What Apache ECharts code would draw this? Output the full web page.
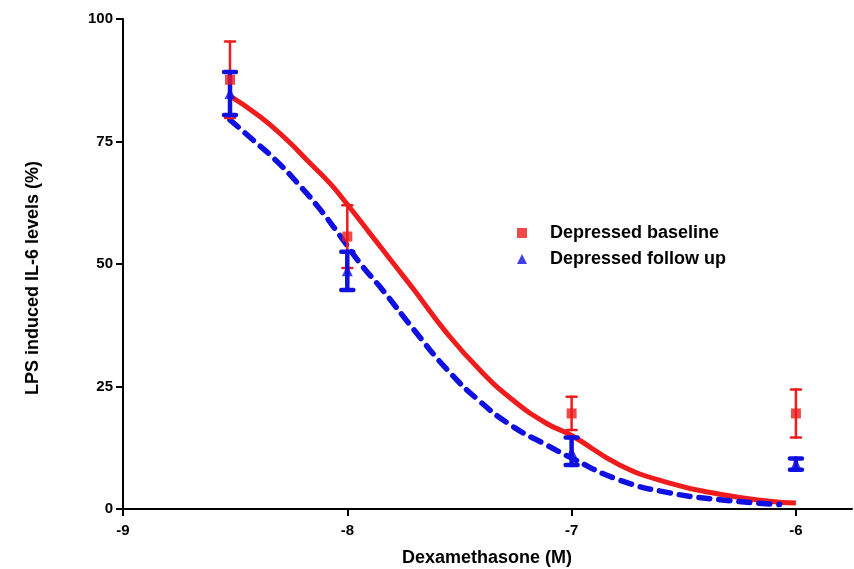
<!DOCTYPE html>
<html><head><meta charset="utf-8">
<script src="https://cdn.jsdelivr.net/npm/echarts@6/dist/echarts.min.js"></script>
<style>html,body{margin:0;padding:0;background:#fff}#c{width:854px;height:569px}</style>
</head><body><div id="c"></div>
<script>
// Dose (log M) of measured points
const doses = [-8.523, -8, -7, -6];
// Depressed baseline: mean, upper and lower error bar ends
const baseMean = [87.6, 55.6, 19.5, 19.5];
const baseHigh = [95.4, 62.0, 22.9, 24.4];
const baseLow  = [79.8, 49.2, 16.1, 14.6];
// Depressed follow up: mean, upper and lower error bar ends
const fupMean = [84.8, 48.6, 11.6, 9.2];
const fupHigh = [89.2, 52.5, 14.6, 10.3];
const fupLow  = [80.4, 44.7, 9.0, 8.0];
// Fitted curves
const baseCurveX = [-8.531,-8.390,-8.271,-8.167,-8.078,-8.004,-7.900,-7.796,-7.707,-7.558,-7.410,-7.261,-7.113,-7.0,-6.786,-6.563,-6.339,-6.118,-6.0];
const baseCurveY = [84.5,80.1,75.4,70.6,66.5,62.4,56.3,50.2,45.0,36.0,28.4,22.2,17.5,15.0,9.0,5.3,3.0,1.6,1.2];
const fupCurveX = [-8.523,-8.420,-8.315,-8.212,-8.122,-8.033,-7.944,-7.841,-7.707,-7.558,-7.410,-7.261,-7.113,-7.009,-6.786,-6.563,-6.339,-6.073];
const fupCurveY = [79.4,75.3,71.0,66.0,61.2,55.8,50.2,44.6,36.8,28.6,22.0,16.8,13.1,10.6,5.9,3.3,1.9,0.9];
const xTicks = [-9, -8, -7, -6];
const yTicks = [0, 25, 50, 75, 100];

const RED = '#ee1c1c', BLUE = '#1010e0';
const FONT = '"Liberation Sans", Arial, sans-serif';
const zip = (a, b) => a.map((v, i) => [v, b[i]]);

function errSeries(name, hi, lo, color, lw, capW) {
  return {
    type: 'custom', name: name, z: 3,
    data: doses.map((d, i) => [d, lo[i], hi[i]]),
    renderItem: function (params, api) {
      const x = api.value(0);
      const pl = api.coord([x, api.value(1)]);
      const ph = api.coord([x, api.value(2)]);
      const st = {stroke: color, lineWidth: lw, lineCap: 'round'};
      return {type: 'group', children: [
        {type: 'line', shape: {x1: pl[0], y1: pl[1], x2: ph[0], y2: ph[1]}, style: st},
        {type: 'line', shape: {x1: ph[0]-capW/2, y1: ph[1], x2: ph[0]+capW/2, y2: ph[1]}, style: st},
        {type: 'line', shape: {x1: pl[0]-capW/2, y1: pl[1], x2: pl[0]+capW/2, y2: pl[1]}, style: st}
      ]};
    }
  };
}

const chart = echarts.init(document.getElementById('c'), null, {renderer: 'canvas'});
const axisFont = {fontFamily: FONT, fontWeight: 'bold', fontSize: 15, color: '#000'};
chart.setOption({
  animation: false,
  backgroundColor: '#fff',
  grid: {left: 123, top: 19, width: 729, height: 490},
  xAxis: {
    type: 'value', min: -9, max: -5.75, interval: 1,
    axisLine: {show: true, lineStyle: {color: '#000', width: 2}},
    axisTick: {show: true, length: 7, lineStyle: {color: '#000', width: 2}, customValues: xTicks},
    axisLabel: Object.assign({margin: 14, customValues: xTicks, formatter: v => String(v)}, axisFont),
    splitLine: {show: false}
  },
  yAxis: {
    type: 'value', min: 0, max: 100, interval: 25,
    axisLine: {show: true, lineStyle: {color: '#000', width: 2}},
    axisTick: {show: true, length: 7, lineStyle: {color: '#000', width: 2}, customValues: yTicks},
    axisLabel: Object.assign({margin: 10, customValues: yTicks}, axisFont),
    splitLine: {show: false}
  },
  legend: {
    orient: 'vertical', left: 512, top: 219, itemGap: 8, itemWidth: 10, itemHeight: 10,
    data: [{name: 'Depressed baseline', icon: 'rect'}, {name: 'Depressed follow up', icon: 'triangle'}],
    textStyle: {fontFamily: FONT, fontWeight: 'bold', fontSize: 18, color: '#000', padding: [0, 0, 0, 18]}
  },
  graphic: [
    {type: 'text', x: 487, y: 558, style: {text: 'Dexamethasone (M)', align: 'center', verticalAlign: 'middle',
      font: 'bold 18px ' + FONT, fill: '#000'}},
    {type: 'text', x: 33, y: 278, rotation: Math.PI / 2, style: {text: 'LPS induced IL-6 levels (%)', align: 'center', verticalAlign: 'middle',
      font: 'bold 18px ' + FONT, fill: '#000'}}
  ],
  series: [
    {type: 'line', name: 'baseCurve', data: zip(baseCurveX, baseCurveY), smooth: 0.5, showSymbol: false, z: 2,
      lineStyle: {color: RED, width: 5}},
    {type: 'line', name: 'fupCurve', data: zip(fupCurveX, fupCurveY), smooth: 0.5, showSymbol: false, z: 2,
      lineStyle: {color: BLUE, width: 5.5, type: [11, 9], cap: 'round'}},
    errSeries('baseErr', baseHigh, baseLow, RED, 2.5, 10),
    errSeries('fupErr', fupHigh, fupLow, BLUE, 4.5, 12),
    {type: 'scatter', name: 'Depressed baseline', data: zip(doses, baseMean), symbol: 'rect', symbolSize: 10, z: 4,
      itemStyle: {color: RED}},
    {type: 'scatter', name: 'Depressed follow up', data: zip(doses, fupMean), symbol: 'triangle', symbolSize: 11, z: 4,
      itemStyle: {color: BLUE}}
  ]
});
</script></body></html>
